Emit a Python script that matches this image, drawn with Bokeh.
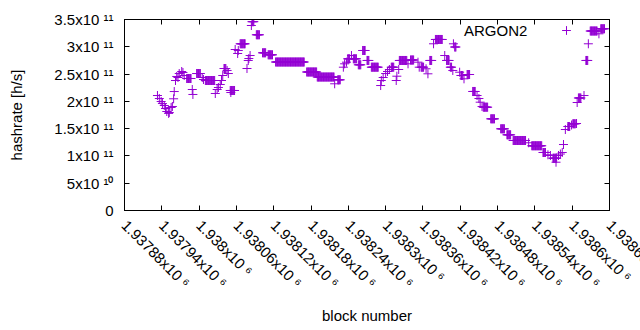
import math
from bokeh.plotting import figure
from bokeh.models import (ColumnDataSource, Range1d, FixedTicker, LinearAxis,
                          Legend, LegendItem)
from bokeh.embed import file_html
from bokeh.resources import INLINE

# ---------------- data ----------------
# isolated points: block number, hashrate [h/s]
single_blocks = [
    1937933, 1937936, 1937939, 1937941, 1937944, 1937946, 1937948, 1937951,
    1937952, 1937955, 1937957, 1937959, 1937960, 1937962, 1937964, 1937966,
    1937968, 1937972, 1937974, 1937976, 1937989, 1937990, 1938005, 1938007,
    1938026, 1938029, 1938031, 1938034, 1938036, 1938038, 1938045, 1938047,
    1938051, 1938058, 1938062, 1938063, 1938077, 1938079, 1938080, 1938082,
    1938084, 1938218, 1938232, 1938234, 1938237, 1938245, 1938292, 1938293,
    1938296, 1938300, 1938303, 1938306, 1938317, 1938318, 1938321, 1938336,
    1938352, 1938354, 1938365, 1938368, 1938377, 1938395, 1938408, 1938409,
    1938419, 1938426, 1938447, 1938450, 1938452, 1938455, 1938530, 1938561,
    1938565, 1938574, 1938578, 1938581, 1938584, 1938586, 1938589, 1938599,
    1938607, 1938608, 1938619, 1938626, 1938643,
]
single_rates = [
    2.107e11, 2.052e11, 1.997e11, 1.960e11, 1.924e11, 1.869e11, 1.814e11, 1.779e11,
    1.796e11, 1.888e11, 1.906e11, 2.047e11, 2.180e11, 2.382e11, 2.456e11, 2.437e11,
    2.510e11, 2.547e11, 2.529e11, 2.474e11, 2.217e11, 2.126e11, 2.437e11, 2.400e11,
    2.144e11, 2.217e11, 2.254e11, 2.309e11, 2.382e11, 2.474e11, 2.566e11, 2.510e11,
    2.162e11, 2.950e11, 2.877e11, 2.932e11, 2.602e11, 2.749e11, 2.785e11, 2.840e11,
    3.390e11, 2.322e11, 2.626e11, 2.688e11, 2.718e11, 2.840e11, 2.290e11, 2.382e11,
    2.437e11, 2.510e11, 2.547e11, 2.584e11, 2.382e11, 2.461e11, 2.584e11, 2.688e11,
    2.718e11, 2.626e11, 2.597e11, 2.505e11, 3.055e11, 2.840e11, 2.566e11, 3.055e11,
    2.534e11, 2.413e11, 2.107e11, 2.052e11, 1.985e11, 1.906e11, 1.241e11, 1.021e11,
    1.008e11, 0.885e11, 1.008e11, 1.035e11, 1.063e11, 1.209e11, 1.484e11, 1.567e11,
    1.594e11, 1.979e11, 2.107e11, 3.055e11, 3.238e11,
]
# plateaus: consecutive blocks with the same hashrate
run_first = [
    1937980, 1937996, 1938010, 1938040, 1938050, 1938066, 1938085, 1938092,
    1938102, 1938111, 1938123, 1938173, 1938190, 1938223, 1938239, 1938248,
    1938256, 1938263, 1938270, 1938277, 1938309, 1938322, 1938340, 1938357,
    1938371, 1938380, 1938398, 1938404, 1938411, 1938421, 1938431, 1938440,
    1938457, 1938469, 1938485, 1938495, 1938505, 1938535, 1938553, 1938569,
    1938593, 1938601, 1938610, 1938622, 1938629, 1938646,
]
run_last = [
    1937987, 1938002, 1938025, 1938043, 1938057, 1938074, 1938088, 1938097,
    1938107, 1938118, 1938169, 1938189, 1938217, 1938227, 1938242, 1938253,
    1938260, 1938267, 1938273, 1938288, 1938313, 1938334, 1938345, 1938361,
    1938374, 1938391, 1938402, 1938406, 1938413, 1938424, 1938435, 1938444,
    1938464, 1938475, 1938491, 1938501, 1938525, 1938551, 1938557, 1938575,
    1938596, 1938605, 1938614, 1938625, 1938640, 1938652,
]
run_rates = [
    2.419e11, 2.510e11, 2.382e11, 2.602e11, 2.199e11, 3.055e11, 3.460e11, 3.220e11,
    2.890e11, 2.853e11, 2.721e11, 2.538e11, 2.446e11, 2.395e11, 2.780e11, 2.780e11,
    2.670e11, 2.932e11, 2.749e11, 2.626e11, 2.626e11, 2.749e11, 2.758e11, 2.626e11,
    2.749e11, 3.134e11, 2.749e11, 2.626e11, 2.996e11, 2.474e11, 2.492e11, 2.181e11,
    1.893e11, 1.680e11, 1.497e11, 1.387e11, 1.283e11, 1.186e11, 1.063e11, 0.958e11,
    1.539e11, 1.589e11, 2.062e11, 2.749e11, 3.289e11, 3.330e11,
]

x_ticks = [1937880, 1937940, 1938000, 1938060, 1938120, 1938180, 1938240,
           1938300, 1938360, 1938420, 1938480, 1938540, 1938600, 1938660]
x_tick_labels = ["1.93788x10 \u2076", "1.93794x10 \u2076", "1.938x10 \u2076",
                 "1.93806x10 \u2076", "1.93812x10 \u2076", "1.93818x10 \u2076",
                 "1.93824x10 \u2076", "1.9383x10 \u2076", "1.93836x10 \u2076",
                 "1.93842x10 \u2076", "1.93848x10 \u2076", "1.93854x10 \u2076",
                 "1.9386x10 \u2076", "1.93866x10 \u2076"]
y_ticks = [0, 5e10, 1e11, 1.5e11, 2e11, 2.5e11, 3e11, 3.5e11]
y_tick_labels = ["0", "5x10 \u00b9\u2070", "1x10 \u00b9\u00b9", "1.5x10 \u00b9\u00b9",
                 "2x10 \u00b9\u00b9", "2.5x10 \u00b9\u00b9", "3x10 \u00b9\u00b9",
                 "3.5x10 \u00b9\u00b9"]

series_name = "ARGON2"
x_title = "block number"
y_title = "hashrate [h/s]"

# ---------------- build table ----------------
blocks = list(single_blocks)
rates = list(single_rates)
for a, b, v in zip(run_first, run_last, run_rates):
    for blk in range(a, b + 1):
        blocks.append(blk)
        rates.append(v)
source = ColumnDataSource(dict(block=blocks, rate=rates))

FONT = "Liberation Sans"
FS = "15px"
PURPLE = "#9400d3"

p = figure(width=640, height=330, output_backend="svg", toolbar_location=None,
           x_range=Range1d(x_ticks[0], x_ticks[-1]),
           y_range=Range1d(y_ticks[0], y_ticks[-1]),
           min_border_left=124, min_border_right=31, min_border_top=19,
           min_border_bottom=120)
p.background_fill_color = "white"
p.border_fill_color = "white"
p.outline_line_color = "black"
p.outline_line_width = 1
p.xgrid.visible = False
p.ygrid.visible = False

r = p.scatter("block", "rate", source=source, marker="cross", size=9,
              line_color=PURPLE, line_width=1)

# axes
for ax in (p.xaxis[0], p.yaxis[0]):
    ax.major_label_text_font = FONT
    ax.major_label_text_font_size = FS
    ax.major_label_text_color = "black"
    ax.axis_label_text_font = FONT
    ax.axis_label_text_font_size = FS
    ax.axis_label_text_font_style = "normal"
    ax.axis_label_text_color = "black"
    ax.minor_tick_line_color = None
    ax.major_tick_in = 5
    ax.major_tick_out = 0
    ax.axis_line_color = "black"
    ax.major_tick_line_color = "black"

# Bokeh pulls the first and the last label of the tick list back inside the
# canvas; in the original the label of the right-most tick runs off the edge,
# so that tick is not put last in the ticker's list.
tick_order = x_ticks[:-2] + [x_ticks[-1], x_ticks[-2]]
p.xaxis.ticker = FixedTicker(ticks=tick_order)
p.xaxis.major_label_overrides = dict(zip(x_ticks, x_tick_labels))
p.xaxis.major_label_orientation = -math.pi / 4
p.xaxis.major_label_standoff = 12
p.xaxis.axis_label = x_title
p.xaxis.axis_label_standoff = 7

p.yaxis.ticker = FixedTicker(ticks=y_ticks)
p.yaxis.major_label_overrides = dict(zip(y_ticks, y_tick_labels))
p.yaxis.major_label_standoff = 11
p.yaxis.axis_label = y_title
p.yaxis.axis_label_standoff = 26

# mirrored ticks on top and right
top = LinearAxis(ticker=FixedTicker(ticks=x_ticks),
                 major_label_overrides={t: "" for t in x_ticks},
                 major_label_text_font_size="0px", major_label_standoff=0,
                 major_tick_in=5, major_tick_out=0, minor_tick_line_color=None,
                 axis_line_color="black")
p.add_layout(top, "above")
right = LinearAxis(ticker=FixedTicker(ticks=y_ticks),
                   major_label_overrides={t: "" for t in y_ticks},
                   major_label_text_font_size="0px", major_label_standoff=0,
                   major_tick_in=5, major_tick_out=0, minor_tick_line_color=None,
                   axis_line_color="black")
p.add_layout(right, "right")

# legend: gnuplot style, text followed by the point sample
ghost = p.scatter(x=[], y=[], marker="cross", line_alpha=0)
leg_text = Legend(items=[LegendItem(label=series_name, renderers=[ghost])],
                  location=(340, 170), glyph_width=0, glyph_height=20,
                  label_standoff=0, padding=0, margin=0, spacing=0,
                  border_line_alpha=0, background_fill_alpha=0,
                  label_text_font=FONT, label_text_font_size=FS,
                  label_text_color="black")
leg_mark = Legend(items=[LegendItem(label=" ", renderers=[r])],
                  location=(431, 169), glyph_width=22, glyph_height=22,
                  label_standoff=0, padding=0, margin=0, spacing=0,
                  border_line_alpha=0, background_fill_alpha=0,
                  label_text_font=FONT, label_text_font_size=FS)
p.add_layout(leg_text)
p.add_layout(leg_mark)

open("out.html", "w").write(file_html(p, INLINE))
